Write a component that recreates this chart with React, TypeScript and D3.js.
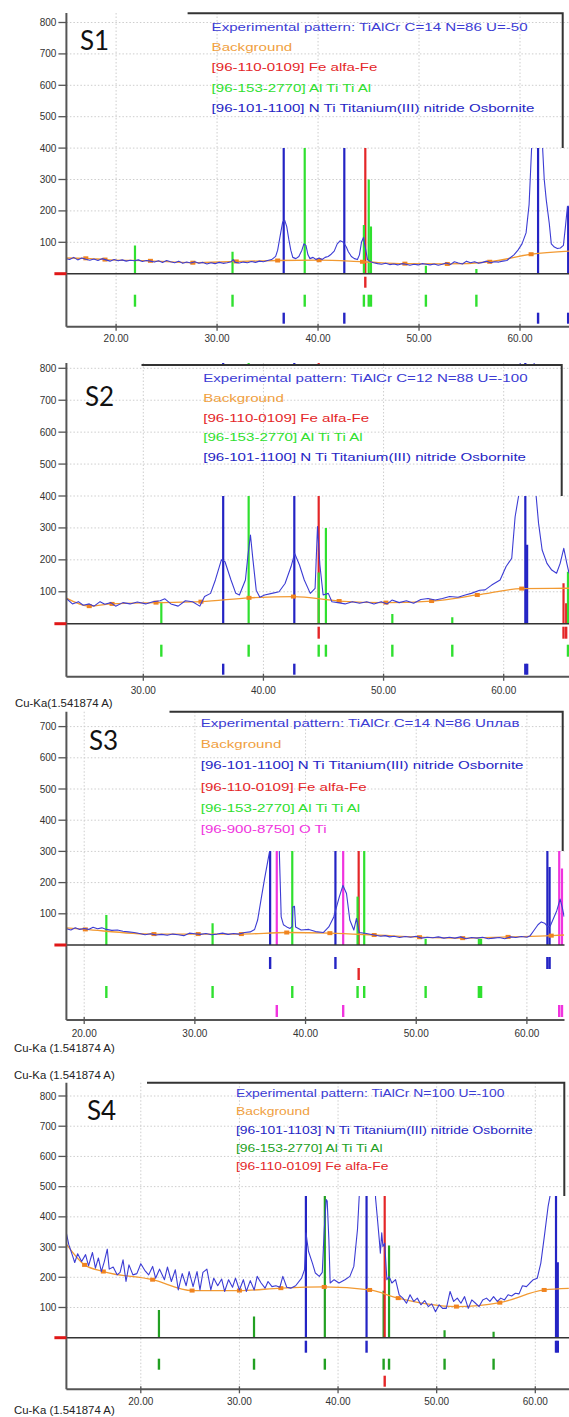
import * as d3 from "d3";
import { useEffect, useRef } from "react";

type Pt = [number, number];

// colours
const expBlue = "#3c3cd4";
const bgOrange = "#f29a32";
const dotOrange = "#f08420";
const feRed = "#e42628";
const alGreen = "#2fe02f";
const alGreenDark = "#22a022";
const tinBlue = "#2424c4";
const otiPink = "#f034de";

// axis ticks
const xTicksFull = [20, 30, 40, 50, 60];
const xTicksS2 = [30, 40, 50, 60];
const yTicks800 = [100, 200, 300, 400, 500, 600, 700, 800];
const yTicks700 = [100, 200, 300, 400, 500, 600, 700];

// ---------- S1 ----------
const s1Exp: Pt[] = [
  [15.0, 48], [15.4, 45], [15.8, 52], [16.2, 44], [16.6, 50], [17.0, 46], [17.4, 43], [17.8, 47], [18.2, 42], [18.6, 48],
  [19.0, 44], [19.4, 40], [19.8, 45], [20.2, 41], [20.6, 44], [21.0, 40], [21.4, 43], [21.8, 41], [22.2, 44], [22.6, 39],
  [23.0, 42], [23.4, 40], [23.8, 37], [24.2, 41], [24.6, 36], [25.0, 42], [25.4, 38], [25.8, 35], [26.2, 40], [26.6, 33],
  [27.0, 37], [27.4, 34], [27.8, 38], [28.2, 33], [28.6, 36], [29.0, 31], [29.4, 35], [29.8, 32], [30.2, 36], [30.6, 33],
  [31.0, 35], [31.4, 38], [31.6, 45], [31.8, 36], [32.2, 34], [32.6, 37], [33.0, 35], [33.4, 39], [33.8, 36], [34.2, 40],
  [34.6, 38], [35.0, 42], [35.4, 45], [35.8, 55], [36.0, 75], [36.3, 130], [36.5, 165], [36.7, 170], [36.9, 150], [37.1, 110],
  [37.3, 75], [37.5, 52], [37.8, 48], [38.1, 55], [38.4, 75], [38.6, 95], [38.8, 90], [39.0, 60], [39.2, 48], [39.5, 52],
  [39.8, 45], [40.1, 50], [40.4, 45], [40.7, 52], [41.0, 55], [41.3, 62], [41.6, 72], [41.9, 95], [42.2, 105], [42.5, 100],
  [42.8, 85], [43.0, 70], [43.3, 55], [43.6, 48], [43.9, 45], [44.1, 60], [44.3, 100], [44.5, 115], [44.7, 80], [44.9, 45],
  [45.2, 38], [45.5, 35], [45.9, 32], [46.3, 30], [46.7, 33], [47.1, 29], [47.5, 31], [47.9, 28], [48.3, 32], [48.7, 30],
  [49.1, 27], [49.5, 30], [49.9, 28], [50.3, 32], [50.7, 30], [51.1, 28], [51.5, 31], [51.9, 27], [52.3, 30], [52.7, 34],
  [53.1, 29], [53.5, 38], [53.9, 34], [54.3, 31], [54.7, 40], [55.1, 35], [55.5, 38], [55.9, 33], [56.3, 36], [56.7, 40],
  [57.1, 35], [57.5, 38], [57.9, 37], [58.3, 40], [58.7, 42], [59.0, 50], [59.4, 60], [59.8, 75], [60.2, 95], [60.6, 130],
  [60.9, 220], [61.15, 400], [61.3, 900], [62.1, 900], [62.24, 400], [62.4, 300], [62.6, 235], [62.9, 160], [63.1, 95], [63.4, 85],
  [63.7, 80], [64.0, 82], [64.3, 90], [64.5, 150], [64.7, 215], [64.9, 215],
];
const s1Bg: Pt[] = [
  [15.0, 50], [17.0, 49], [18.9, 45], [23.4, 41], [27.6, 35], [31.9, 39], [36.0, 42], [40.1, 43], [44.4, 38],
  [48.6, 32], [52.8, 31], [57.0, 38], [61.1, 62], [64.9, 72],
];
const s1Fe: Pt[] = [[44.68, 1000]];
const s1AlTi: Pt[] = [[21.87, 90], [31.53, 70], [38.68, 1000], [44.54, 155], [45.02, 300], [45.24, 150], [50.68, 25], [55.68, 15]];
const s1TiN: Pt[] = [[36.6, 1000], [42.6, 1000], [61.79, 1000], [64.77, 215]];

// ---------- S2 ----------
const s2Exp: Pt[] = [
  [23.6, 79], [24.1, 62], [24.6, 69], [25.0, 58], [25.5, 62], [25.9, 55], [26.4, 69], [26.8, 61], [27.3, 66], [27.7, 55],
  [28.3, 66], [28.9, 62], [29.5, 68], [30.2, 62], [30.8, 69], [31.4, 72], [31.8, 78], [32.3, 62], [32.9, 55], [33.5, 72],
  [34.1, 69], [34.7, 55], [35.1, 85], [35.6, 95], [36.0, 137], [36.5, 200], [36.8, 194], [37.3, 137], [37.7, 95], [38.0, 90],
  [38.5, 137], [38.7, 210], [38.92, 278], [39.1, 210], [39.4, 105], [39.7, 83], [40.1, 90], [40.7, 95], [41.3, 100], [41.8, 126],
  [42.3, 179], [42.6, 220], [43.0, 184], [43.4, 137], [43.9, 95], [44.3, 111], [44.5, 304], [44.7, 184], [44.97, 90], [45.4, 95],
  [45.7, 69], [46.2, 66], [46.8, 62], [47.4, 69], [48.0, 64], [48.6, 69], [49.2, 62], [49.8, 69], [50.3, 62], [50.7, 74],
  [51.3, 66], [51.9, 72], [52.5, 64], [53.1, 76], [53.7, 79], [54.3, 74], [54.9, 79], [55.5, 85], [56.2, 83], [56.8, 90],
  [57.3, 95], [58.0, 105], [58.45, 106], [59.0, 121], [59.7, 137], [60.2, 179], [60.67, 205], [60.95, 335], [61.24, 400], [61.4, 900],
  [62.5, 900], [62.7, 400], [62.9, 315], [63.2, 231], [63.6, 189], [64.0, 168], [64.4, 158], [64.7, 189], [65.0, 236], [65.25, 190],
  [65.44, 158],
];
const s2Bg: Pt[] = [
  [23.6, 80], [25.5, 55], [27.4, 62], [31.06, 66], [34.8, 69], [38.8, 81], [42.5, 85], [46.3, 71], [50.2, 66],
  [54.0, 71], [57.8, 90], [61.5, 110], [65.44, 111],
];
const s2Fe: Pt[] = [[44.6, 1000], [64.98, 127], [65.2, 64]];
const s2AlTi: Pt[] = [[31.5, 69], [38.77, 1000], [44.6, 160], [45.2, 300], [50.73, 30], [55.72, 20], [65.35, 163]];
const s2TiN: Pt[] = [[36.65, 1000], [42.57, 1000], [61.8, 1000], [61.95, 247]];

// ---------- S3 ----------
const s3Exp: Pt[] = [
  [18.4, 52], [18.8, 48], [19.2, 55], [19.6, 50], [20.0, 53], [20.4, 50], [20.8, 57], [21.2, 52], [21.6, 55], [22.0, 50],
  [22.5, 47], [23.0, 48], [23.5, 44], [24.0, 42], [24.5, 40], [25.0, 37], [25.5, 33], [26.0, 36], [26.5, 32], [27.0, 34],
  [27.5, 31], [28.0, 35], [28.5, 33], [29.0, 30], [29.5, 38], [30.0, 36], [30.5, 34], [31.0, 37], [31.5, 33], [32.0, 35],
  [32.5, 38], [33.0, 34], [33.5, 37], [34.0, 35], [34.5, 40], [35.0, 42], [35.4, 50], [35.67, 80], [36.0, 150], [36.3, 213],
  [36.6, 271], [36.75, 300], [36.9, 900], [37.5, 900], [37.63, 300], [37.8, 90], [38.0, 65], [38.3, 58], [38.6, 53], [38.8, 60],
  [38.85, 122], [39.0, 124], [39.1, 58], [39.6, 48], [40.3, 50], [40.9, 43], [41.6, 40], [42.1, 58], [42.55, 90], [43.05, 154],
  [43.38, 191], [43.7, 165], [44.0, 80], [44.36, 48], [44.6, 85], [44.85, 40], [45.5, 37], [46.2, 32], [46.8, 28], [47.2, 30],
  [47.6, 26], [48.0, 28], [48.5, 24], [49.0, 27], [49.5, 25], [50.0, 28], [50.5, 22], [51.0, 25], [51.5, 23], [52.0, 26],
  [52.5, 22], [53.0, 25], [53.5, 22], [54.0, 26], [54.5, 20], [55.0, 24], [55.5, 22], [56.0, 25], [56.5, 20], [57.0, 22],
  [57.5, 24], [58.0, 20], [58.5, 26], [59.0, 24], [59.5, 27], [60.0, 25], [60.3, 30], [60.6, 45], [61.0, 65], [61.3, 74],
  [61.6, 70], [61.9, 58], [62.1, 60], [62.4, 85], [62.7, 110], [63.0, 147], [63.2, 120], [63.36, 91],
];
const s3Bg: Pt[] = [
  [18.4, 55], [20.1, 50], [26.3, 35], [30.3, 35], [34.2, 35], [38.3, 40], [42.2, 38], [46.2, 32], [50.3, 25],
  [54.2, 22], [58.3, 26], [62.2, 30], [63.36, 32],
];
const s3TiN: Pt[] = [[36.8, 1000], [42.7, 1000], [61.85, 1000], [62.05, 250]];
const s3Fe: Pt[] = [[44.8, 1000]];
const s3AlTi: Pt[] = [[22.0, 96], [31.6, 70], [38.8, 1000], [44.7, 155], [45.3, 1000], [50.85, 20], [55.66, 20], [55.86, 20]];
const s3OTi: Pt[] = [[37.4, 1000], [43.4, 1000], [62.92, 1000], [63.17, 245]];

// ---------- S4 ----------
const s4Exp: Pt[] = [
  [12.45, 347], [12.7, 308], [13.1, 269], [13.3, 249], [13.6, 278], [14.0, 252], [14.4, 275], [14.7, 238], [15.1, 282], [15.4, 230],
  [15.7, 264], [16.0, 219], [16.3, 252], [16.6, 293], [16.8, 227], [17.2, 234], [17.6, 208], [17.9, 216], [18.2, 258], [18.5, 186],
  [18.8, 241], [19.2, 208], [19.6, 212], [20.0, 245], [20.4, 223], [20.8, 208], [21.2, 236], [21.5, 197], [21.9, 227], [22.4, 192],
  [22.7, 234], [23.1, 186], [23.5, 225], [23.8, 158], [24.2, 212], [24.6, 172], [24.9, 219], [25.3, 169], [25.7, 219], [26.0, 158],
  [26.3, 216], [26.7, 227], [27.1, 158], [27.4, 197], [27.8, 172], [28.2, 194], [28.5, 153], [28.9, 192], [29.3, 167], [29.6, 197],
  [30.0, 158], [30.4, 192], [30.7, 153], [31.1, 189], [31.5, 158], [31.8, 203], [32.2, 181], [32.6, 164], [32.9, 186], [33.3, 169],
  [33.7, 172], [34.1, 167], [34.4, 203], [34.8, 167], [35.2, 164], [35.7, 172], [36.3, 197], [36.6, 225], [36.75, 347], [37.0, 286],
  [37.4, 247], [37.7, 214], [38.1, 203], [38.4, 216], [38.6, 358], [38.8, 457], [38.9, 452], [39.07, 324], [39.2, 181], [39.6, 192],
  [40.1, 181], [40.7, 192], [41.2, 203], [41.6, 236], [41.97, 358], [42.15, 470], [42.3, 900], [43.7, 900], [43.8, 463], [44.0, 391],
  [44.18, 324], [44.29, 280], [44.43, 347], [44.55, 302], [44.73, 313], [44.95, 192], [45.17, 203], [45.46, 181], [45.83, 192], [46.2, 142],
  [46.57, 131], [46.94, 114], [47.3, 142], [47.68, 120], [48.04, 131], [48.4, 109], [48.78, 123], [49.15, 103], [49.5, 112], [49.88, 86],
  [50.25, 109], [50.6, 97], [50.98, 97], [51.36, 153], [51.72, 120], [52.09, 131], [52.46, 114], [52.83, 136], [53.2, 97], [53.56, 125],
  [53.94, 114], [54.3, 103], [54.67, 125], [55.05, 131], [55.4, 120], [55.77, 136], [56.15, 120], [56.5, 131], [56.88, 125], [57.24, 142],
  [57.6, 138], [57.98, 147], [58.35, 145], [58.7, 172], [59.1, 169], [59.45, 181], [59.8, 192], [60.2, 197], [60.56, 247], [60.92, 336],
  [61.3, 435], [61.5, 470], [61.7, 900], [63.4, 900],
];
const s4Bg: Pt[] = [
  [12.45, 310], [14.3, 241], [16.2, 219], [21.2, 192], [25.2, 156], [30.0, 156], [34.2, 164], [38.6, 168], [43.2, 158],
  [46.1, 131], [52.0, 103], [56.4, 116], [60.9, 158], [63.4, 163],
];
const s4TiN: Pt[] = [[36.74, 1000], [42.89, 1000], [62.1, 1000], [62.28, 250]];
const s4AlTi: Pt[] = [[21.84, 92], [31.48, 70], [38.66, 1000], [44.62, 155], [45.17, 305], [50.8, 25], [55.77, 20]];
const s4Fe: Pt[] = [[44.73, 1000]];

// legends
const s1Legend = [
  ["Experimental pattern: TiAlCr C=14 N=86 U=-50", expBlue],
  ["Background", "#f0a040"],
  ["[96-110-0109] Fe alfa-Fe", feRed],
  ["[96-153-2770] Al Ti Ti Al", alGreen],
  ["[96-101-1100] N Ti Titanium(III) nitride Osbornite", tinBlue],
];
const s2Legend = [
  ["Experimental pattern: TiAlCr C=12 N=88 U=-100", expBlue],
  ["Background", "#f0a040"],
  ["[96-110-0109] Fe alfa-Fe", feRed],
  ["[96-153-2770] Al Ti Ti Al", alGreen],
  ["[96-101-1100] N Ti Titanium(III) nitride Osbornite", tinBlue],
];
const s3Legend = [
  ["Experimental pattern: TiAlCr C=14 N=86 Uплав", expBlue],
  ["Background", "#f0a040"],
  ["[96-101-1100] N Ti Titanium(III) nitride Osbornite", tinBlue],
  ["[96-110-0109] Fe alfa-Fe", feRed],
  ["[96-153-2770] Al Ti Ti Al", alGreen],
  ["[96-900-8750] O Ti", otiPink],
];
const s4Legend = [
  ["Experimental pattern: TiAlCr N=100 U=-100", expBlue],
  ["Background", "#f0a040"],
  ["[96-101-1103] N Ti Titanium(III) nitride Osbornite", tinBlue],
  ["[96-153-2770] Al Ti Ti Al", alGreenDark],
  ["[96-110-0109] Fe alfa-Fe", feRed],
];

const unitLabel = "Cu-Ka (1.541874 A)";

// layout of the four stacked panels (pixels)
const panels = [
  {
    name: "S1", nameX: 80, nameY: 50,
    exp: s1Exp, bg: s1Bg, legend: s1Legend,
    phases: [{ c: feRed, s: s1Fe }, { c: alGreen, s: s1AlTi }, { c: tinBlue, s: s1TiN }],
    rows: [[3, 14], [21, 33], [39, 50]],
    xDom: [20, 60], xRange: [116.1, 520], yMax: 800, y0: 273.7, yTop: 22.5,
    left: 66.4, right: 569, axisTop: 13, axisBottom: 326.7,
    xTicks: xTicksFull, yTicks: yTicks800, xLabelY: 338,
    box: { x: 187.6, y: 13.3, r: 562.7, b: 148 },
    legX: 211.6, legY: 26.7, legDy: 20.4, legSize: 11.8, legScale: 1.28,
  },
  {
    name: "S2", nameX: 85, nameY: 406,
    exp: s2Exp, bg: s2Bg, legend: s2Legend,
    phases: [{ c: feRed, s: s2Fe }, { c: alGreen, s: s2AlTi }, { c: tinBlue, s: s2TiN }],
    rows: [[3, 15], [21, 33], [40, 51]],
    xDom: [30, 60], xRange: [143.3, 503.7], yMax: 800, y0: 623.7, yTop: 368.3,
    left: 66.4, right: 569, axisTop: 363, axisBottom: 676.7,
    xTicks: xTicksS2, yTicks: yTicks800, xLabelY: 690,
    box: { x: 141.5, y: 365, r: 561.7, b: 496 },
    legX: 203.2, legY: 378.3, legDy: 19.75, legSize: 11.8, legScale: 1.28,
  },
  {
    name: "S3", nameX: 89, nameY: 750,
    exp: s3Exp, bg: s3Bg, legend: s3Legend,
    phases: [{ c: tinBlue, s: s3TiN }, { c: feRed, s: s3Fe }, { c: alGreen, s: s3AlTi }, { c: otiPink, s: s3OTi }],
    rows: [[12, 24], [23, 35], [41, 53], [60, 72]],
    xDom: [20, 60], xRange: [84.2, 526.9], yMax: 700, y0: 945, yTop: 726.6,
    left: 66.4, right: 564.5, axisTop: 711.7, axisBottom: 1020,
    xTicks: xTicksFull, yTicks: yTicks700, xLabelY: 1033,
    box: { x: 169.5, y: 711.7, r: 562.7, b: 851 },
    legX: 200.7, legY: 723, legDy: 21.2, legSize: 11.8, legScale: 1.28,
  },
  {
    name: "S4", nameX: 87, nameY: 1120,
    exp: s4Exp, bg: s4Bg, legend: s4Legend,
    phases: [{ c: tinBlue, s: s4TiN }, { c: alGreenDark, s: s4AlTi }, { c: feRed, s: s4Fe }],
    rows: [[3, 15], [21, 32], [38, 49]],
    xDom: [20, 60], xRange: [140.8, 535.3], yMax: 800, y0: 1337.7, yTop: 1096,
    left: 66.4, right: 569, axisTop: 1082.7, axisBottom: 1389.3,
    xTicks: xTicksFull, yTicks: yTicks800, xLabelY: 1401.7,
    box: { x: 147, y: 1082.7, r: 564.3, b: 1196 },
    legX: 235.9, legY: 1093.3, legDy: 18.35, legSize: 11.2, legScale: 1.24,
  },
];

const unitLabels = [
  { t: "Cu-Ka(1.541874 A)", x: 15, y: 703 },
  { t: unitLabel, x: 14, y: 1048 },
  { t: unitLabel, x: 14, y: 1075 },
  { t: unitLabel, x: 14, y: 1410.5 },
];

const FONT = "'Liberation Sans', Arial, sans-serif";

const App = () => {
  const ref = useRef<SVGSVGElement>(null);

  useEffect(() => {
    const svg = d3.select(ref.current);
    svg.selectAll("*").remove();
    const defs = svg.append("defs");

    panels.forEach((p, i) => {
      const x = d3.scaleLinear().domain(p.xDom).range(p.xRange);
      const y = d3.scaleLinear().domain([0, p.yMax]).range([p.y0, p.yTop]);
      const g = svg.append("g");

      const plotClip = `plot-clip-${i}`;
      const boxClip = `box-clip-${i}`;
      defs.append("clipPath").attr("id", plotClip).append("rect")
        .attr("x", p.left).attr("y", p.axisTop)
        .attr("width", p.right - p.left).attr("height", p.y0 - p.axisTop);
      defs.append("clipPath").attr("id", boxClip).append("rect")
        .attr("x", p.box.x).attr("y", p.box.y)
        .attr("width", p.right - p.box.x).attr("height", p.box.b - p.box.y);

      const grid = (clip: string | null) => {
        const gg = g.append("g")
          .attr("stroke", "#cdcdcd").attr("stroke-width", 1).attr("stroke-dasharray", "1.5,2");
        if (clip) gg.attr("clip-path", `url(#${clip})`);
        p.yTicks.forEach(t => {
          gg.append("line").attr("x1", p.left).attr("x2", p.right).attr("y1", y(t)).attr("y2", y(t));
        });
        p.xTicks.forEach(t => {
          gg.append("line").attr("x1", x(t)).attr("x2", x(t)).attr("y1", p.axisTop).attr("y2", p.axisBottom);
        });
      };

      // grid under the data
      grid(null);

      const plot = g.append("g").attr("clip-path", `url(#${plotClip})`);

      // reference sticks above the baseline
      p.phases.forEach(ph => {
        plot.selectAll(null).data(ph.s).enter().append("line")
          .attr("x1", d => x(d[0])).attr("x2", d => x(d[0]))
          .attr("y1", p.y0).attr("y2", d => y(d[1]))
          .attr("stroke", ph.c).attr("stroke-width", 2.2);
      });

      // background
      plot.append("path")
        .datum(p.bg)
        .attr("d", d3.line<Pt>().x(d => x(d[0])).y(d => y(d[1])).curve(d3.curveMonotoneX))
        .attr("fill", "none").attr("stroke", bgOrange).attr("stroke-width", 1.3);
      plot.selectAll(null).data(p.bg.slice(1, -1)).enter().append("rect")
        .attr("x", d => x(d[0]) - 2.5).attr("y", d => y(d[1]) - 2)
        .attr("width", 5).attr("height", 4)
        .attr("fill", dotOrange);

      // experimental pattern
      plot.append("path")
        .datum(p.exp)
        .attr("d", d3.line<Pt>().x(d => x(d[0])).y(d => y(d[1])))
        .attr("fill", "none").attr("stroke", expBlue).attr("stroke-width", 1.1)
        .attr("stroke-linejoin", "round");

      // baseline
      g.append("line")
        .attr("x1", p.left).attr("x2", p.right).attr("y1", p.y0).attr("y2", p.y0)
        .attr("stroke", "#333").attr("stroke-width", 1.6);

      // tick rows under the baseline
      p.phases.forEach((ph, k) => {
        const [r0, r1] = p.rows[k];
        g.selectAll(null).data(ph.s.filter(d => x(d[0]) <= p.right)).enter().append("line")
          .attr("x1", d => x(d[0])).attr("x2", d => x(d[0]))
          .attr("y1", p.y0 + r0).attr("y2", p.y0 + r1)
          .attr("stroke", ph.c).attr("stroke-width", 2.4);
      });

      // legend box
      g.append("rect")
        .attr("x", p.box.x).attr("y", p.box.y)
        .attr("width", p.right - p.box.x).attr("height", p.box.b - p.box.y)
        .attr("fill", "#fff");
      grid(boxClip);
      g.append("path")
        .attr("d", `M${p.box.x},${p.box.y}H${p.box.r}V${p.box.b}`)
        .attr("fill", "none").attr("stroke", "#333").attr("stroke-width", 2);

      p.legend.forEach(([txt, col], k) => {
        g.append("text")
          .attr("transform", `translate(${p.legX},${p.legY + k * p.legDy}) scale(${p.legScale},1)`)
          .attr("dominant-baseline", "central")
          .attr("font-family", FONT).attr("font-size", p.legSize)
          .attr("fill", col).text(txt);
      });

      // y axis
      g.append("line")
        .attr("x1", p.left).attr("x2", p.left).attr("y1", p.axisTop).attr("y2", p.axisBottom)
        .attr("stroke", "#555").attr("stroke-width", 2);
      p.yTicks.forEach(t => {
        g.append("line").attr("x1", p.left - 8).attr("x2", p.left).attr("y1", y(t)).attr("y2", y(t))
          .attr("stroke", "#555").attr("stroke-width", 1.3);
        g.append("text").attr("x", p.left - 10).attr("y", y(t))
          .attr("text-anchor", "end").attr("dominant-baseline", "central")
          .attr("font-family", FONT).attr("font-size", 10).attr("fill", "#333")
          .text(String(t));
      });

      // zero marker
      g.append("line")
        .attr("x1", p.left - 12).attr("x2", p.left).attr("y1", p.y0).attr("y2", p.y0)
        .attr("stroke", "#e01818").attr("stroke-width", 3);

      // x axis
      g.append("line")
        .attr("x1", p.left).attr("x2", p.right).attr("y1", p.axisBottom).attr("y2", p.axisBottom)
        .attr("stroke", "#555").attr("stroke-width", 2);
      p.xTicks.forEach(t => {
        g.append("line").attr("x1", x(t)).attr("x2", x(t))
          .attr("y1", p.axisBottom - 3).attr("y2", p.axisBottom + 4)
          .attr("stroke", "#555").attr("stroke-width", 1.3);
        g.append("text").attr("x", x(t)).attr("y", p.xLabelY)
          .attr("text-anchor", "middle").attr("dominant-baseline", "central")
          .attr("font-family", FONT).attr("font-size", 10).attr("fill", "#333")
          .text(d3.format(".2f")(t));
      });

      // sample name
      g.append("text").attr("x", p.nameX).attr("y", p.nameY)
        .attr("font-family", "Lato, 'Open Sans', sans-serif").attr("font-size", 26).attr("fill", "#111")
        .text(p.name);
    });

    unitLabels.forEach(u => {
      svg.append("text")
        .attr("transform", `translate(${u.x},${u.y}) scale(1.14,1)`)
        .attr("dominant-baseline", "central")
        .attr("font-family", FONT).attr("font-size", 10).attr("fill", "#222")
        .text(u.t);
    });
  }, []);

  return (
    <svg
      ref={ref}
      width={569}
      height={1417}
      style={{ position: "absolute", left: 0, top: 0, background: "#fff", display: "block" }}
    />
  );
};

export default App;
